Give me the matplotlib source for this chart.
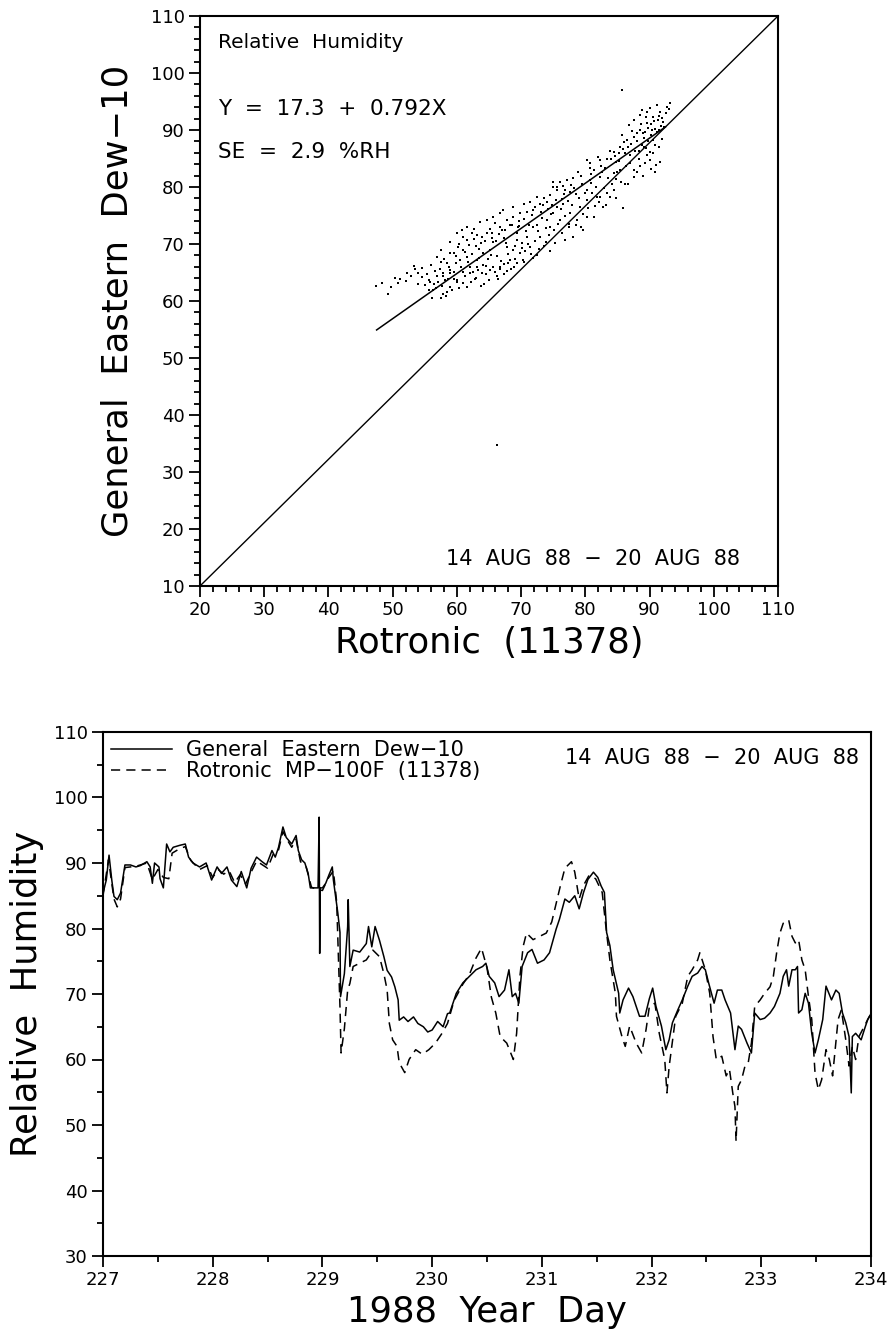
import numpy as np
import matplotlib
matplotlib.use("Agg")
import matplotlib.pyplot as plt
from matplotlib.ticker import MultipleLocator

plt.rcParams['font.family'] = ['DejaVu Sans']

# ---- scatter: Rotronic (x) vs General Eastern Dew-10 (y), % RH
rot_x = [47.4, 48.3, 49.3, 50.9, 51.1, 52.3, 53.3, 53.5, 54.0, 55.3, 55.8, 56.1, 55.6, 57.5, 58.3, 58.4,
         57.0, 57.9, 59.0, 60.0, 61.0, 63.7, 62.1, 63.1, 64.1, 65.2, 66.7, 67.8, 69.3, 70.3, 72.4, 74.5,
         56.9, 58.4, 60.5, 61.5, 58.9, 57.6, 56.9, 57.9, 58.9, 59.5, 60.2, 61.0, 61.5, 62.3, 63.1, 63.9,
         64.7, 65.2, 66.0, 66.7, 67.8, 68.8, 69.8, 70.9, 72.2, 73.5, 75.0, 76.1, 77.1, 78.1, 80.7, 82.3,
         83.3, 84.4, 85.4, 86.5, 87.5, 88.5, 89.6, 90.6, 91.6, 92.7, 93.2, 91.1, 89.6, 88.5, 87.5,
         89.6, 90.6, 90.1, 90.9, 88.5,
         66.7, 68.3, 69.8, 71.4, 73.0, 74.5, 76.1, 77.6, 79.2, 80.2, 81.8, 83.3, 84.4,
         64.1, 65.2, 63.1, 62.1, 61.0, 60.0, 59.0, 57.9, 56.3, 55.6, 65.7, 67.8, 69.3, 70.9, 71.9, 74.0,
         75.0, 75.6, 76.6, 74.5, 75.6, 77.6, 80.2, 80.7, 80.2, 79.4, 78.1, 76.9, 79.7, 81.3, 82.3, 83.9,
         82.8, 85.4, 87.0, 87.5, 84.4, 82.3, 81.3, 80.2, 80.7,
         60.0, 60.8, 61.5, 62.6, 63.6, 64.7, 65.7, 66.7, 67.2, 68.8, 70.4, 71.4, 72.4, 75.0, 75.6,
         58.2, 59.6, 61.8, 63.4, 65.6, 67.3, 69.5, 71.2, 73.1, 74.8, 76.4, 78.6, 80.9, 82.6, 84.8, 86.2,
         88.8, 90.3, 91.4,
         89.0, 89.8, 90.2, 90.8, 91.3, 91.9, 90.5, 89.2, 88.0, 87.1, 86.0, 85.2, 88.3, 89.4, 91.5, 92.3,
         92.0, 90.0, 88.9, 86.8, 85.7, 84.0, 83.0, 82.0, 79.5, 78.8, 77.8, 76.8, 85.7, 85.9, 91.6, 90.2,
         89.0, 86.6, 84.8,
         62.8, 64.6, 66.2, 67.4, 68.9, 70.6, 71.8, 73.6, 75.2, 76.3, 77.4, 78.7, 81.5, 83.2, 84.8, 86.2,
         87.6,
         57.6, 59.0, 60.3, 62.9, 63.8, 65.4, 66.5, 67.5, 68.6, 69.6, 70.5, 71.7, 73.0, 74.2, 76.7, 54.5,
         56.6, 58.0, 59.8, 61.2, 62.4, 63.3, 64.9, 66.3, 67.9, 69.0, 70.2, 72.6, 73.9,
         66.3]
dew_y = [62.6, 63.2, 61.3, 63.1, 63.8, 65.0, 66.1, 65.6, 65.0, 64.7, 63.4, 60.5, 62.0, 60.6, 60.8, 61.5,
         63.4, 64.3, 64.9, 63.4, 63.1, 62.6, 64.9, 66.0, 66.3, 65.4, 65.7, 65.2, 66.6, 67.2, 68.1, 68.7,
         67.8, 66.6, 67.2, 67.8, 68.4, 66.9, 64.3, 64.9, 65.4, 68.4, 69.5, 71.3, 70.7, 71.9, 71.6, 71.3,
         71.9, 72.7, 73.6, 73.0, 74.2, 74.8, 75.4, 75.7, 76.5, 78.0, 80.0, 80.9, 81.2, 81.5, 84.2, 84.7,
         85.0, 86.2, 87.1, 88.2, 88.8, 90.0, 91.2, 92.3, 93.2, 94.1, 94.7, 94.4, 93.2, 92.6, 91.8,
         85.6, 85.9, 84.7, 82.7, 83.6,
         66.0, 67.2, 68.4, 69.5, 71.3, 73.0, 74.2, 75.4, 76.5, 77.7, 78.3, 78.9, 79.5,
         68.4, 69.0, 67.2, 66.0, 65.1, 63.7, 62.5, 61.3, 61.9, 63.7, 66.0, 69.5, 70.7, 71.3, 73.0, 74.2,
         75.4, 76.5, 77.1, 78.6, 79.5, 79.2, 79.5, 81.2, 74.8, 73.0, 71.3, 70.7, 72.4, 74.8, 78.3, 78.3,
         76.5, 83.0, 84.2, 83.0, 82.4, 81.8, 83.0, 84.7, 83.3,
         71.9, 72.5, 73.0, 72.7, 73.9, 74.2, 74.8, 75.4, 76.0, 76.5, 77.1, 77.4, 78.3, 80.9, 80.0,
         63.6, 65.1, 66.9, 67.6, 70.3, 71.0, 72.9, 73.4, 75.6, 76.9, 77.9, 78.8, 80.7, 82.6, 84.3, 85.9,
         87.4, 89.1, 90.0,
         89.5, 90.4, 91.0, 90.1, 91.8, 92.1, 88.2, 88.6, 89.5, 87.5, 87.9, 86.0, 86.4, 86.9, 87.0, 90.6,
         88.5, 93.8, 93.5, 90.8, 89.2, 84.9, 83.4, 85.3, 80.6, 82.6, 80.3, 79.5, 97.0, 76.3, 84.3, 83.2,
         82.0, 80.5, 81.4,
         63.8, 64.8, 64.4, 66.5, 65.9, 68.8, 67.6, 69.7, 70.2, 72.0, 73.5, 74.2, 76.6, 76.8, 78.0, 80.5,
         81.8,
         69.0, 70.4, 70.0, 69.6, 70.1, 71.0, 71.7, 72.5, 73.3, 74.0, 74.4, 75.1, 77.1, 76.2, 78.8, 64.2,
         65.3, 67.4, 66.7, 68.6, 68.2, 65.4, 67.3, 67.9, 68.2, 69.6, 70.2, 72.3, 72.8,
         34.7]

# more points of the same cloud
rot_x2 = [49.8, 50.4, 52.0, 52.8, 53.9, 54.6, 55.0, 55.9, 56.4, 56.8, 57.3, 57.7, 58.6, 58.8, 59.3, 59.6,
          59.9, 60.4, 60.7, 60.9,
          61.3, 61.6, 61.9, 62.2, 62.5, 62.7, 63.0, 63.5, 63.9, 64.2, 64.4, 64.6, 65.0, 65.3, 65.5, 65.9,
          66.1, 66.4, 66.9, 67.1, 67.3, 67.6, 67.9, 68.2, 68.4, 68.7,
          69.1, 69.4, 69.7, 70.1, 70.4, 70.8, 71.1, 71.5, 71.8, 72.1, 72.4, 72.8, 73.2, 73.4, 73.8, 74.1,
          74.3, 74.7, 75.1, 75.4, 75.8, 76.2, 76.5, 76.9, 77.3, 77.5, 77.9, 78.3, 78.5, 79.0, 79.3, 79.6,
          79.9,
          80.4, 80.9, 81.1, 81.6, 82.1, 82.5, 82.9, 83.6, 83.8, 84.2, 84.6, 85.0, 85.3, 85.6, 85.9, 86.3,
          86.7, 87.0, 87.3, 87.8, 88.1, 88.4, 88.7, 89.1, 89.3, 89.5, 89.8, 90.1, 90.4, 90.7, 90.9, 91.2,
          91.5, 91.8, 92.1, 92.5, 93.0, 89.3, 91.0, 88.0]
dew_y2 = [62.4, 64.0, 63.5, 64.4, 63.0, 65.8, 62.8, 66.4, 63.0, 62.2, 65.7, 62.6, 63.9, 66.0, 61.9, 63.8,
          67.9, 62.2, 65.9, 68.9,
          64.3, 62.4, 69.8, 63.3, 65.1, 70.9, 64.1, 69.1, 64.9, 62.9, 70.6, 66.2, 63.6, 68.1, 72.0, 65.1,
          70.6, 63.9, 67.1, 72.4, 64.7, 70.2, 66.6, 73.4, 65.6, 69.0,
          67.4, 71.9, 73.1, 69.3, 66.9, 72.2, 70.0, 68.2, 76.0, 70.6, 73.3, 69.2, 74.6, 76.8, 70.4, 77.4,
          71.6, 75.2, 72.4, 77.8, 73.5, 76.1, 80.2, 74.9, 77.6, 72.9, 76.8, 79.9, 73.4, 78.1, 81.9, 75.2,
          79.0,
          76.4, 82.3, 78.9, 80.0, 77.4, 83.6, 79.9, 81.6, 86.3, 80.5, 85.4, 82.6, 84.6, 80.9, 86.6, 83.7,
          87.0, 85.6, 89.9, 86.3, 88.0, 84.9, 91.0, 87.0, 89.7, 92.2, 88.1, 86.2, 90.0, 91.6, 87.4, 89.6,
          92.5, 90.7, 91.4, 93.0, 93.7, 84.2, 83.8, 82.7]

fit_a, fit_b = 17.3, 0.792
fit_x = [47.5, 92.5]
diag_x = [20, 110]
diag_y = [10, 110]

# ---- time series, 1988 year day
ge_day = [227.00, 227.03, 227.055, 227.08, 227.10, 227.13, 227.16, 227.20, 227.25, 227.30, 227.34, 227.40,
          227.43, 227.45, 227.47, 227.51, 227.52, 227.55, 227.58, 227.61, 227.64, 227.70, 227.75, 227.78,
          227.82, 227.88, 227.94, 227.99, 228.04, 228.08, 228.13, 228.17, 228.22, 228.26, 228.31, 228.35,
          228.40, 228.45, 228.49, 228.54, 228.57, 228.60, 228.64, 228.67, 228.72, 228.76, 228.78, 228.81,
          228.84, 228.87, 228.89, 228.93, 228.96, 228.97, 228.975, 228.98, 229.00, 229.03, 229.06, 229.09,
          229.10, 229.12, 229.14, 229.16, 229.165, 229.20, 229.23, 229.235, 229.25, 229.28, 229.34, 229.40,
          229.42, 229.45, 229.48, 229.52, 229.56, 229.59, 229.63, 229.66, 229.69, 229.70, 229.74, 229.78,
          229.83, 229.87, 229.92, 229.96, 230.00, 230.05, 230.10, 230.14, 230.16, 230.22, 230.28, 230.34,
          230.40, 230.46, 230.49, 230.52, 230.57, 230.61, 230.66, 230.70, 230.73, 230.76, 230.79, 230.82,
          230.87, 230.91, 230.96, 231.02, 231.07, 231.13, 231.16, 231.21, 231.25, 231.30, 231.34, 231.38,
          231.42, 231.47, 231.51, 231.54, 231.57, 231.59, 231.62, 231.65, 231.70, 231.71, 231.74, 231.79,
          231.83, 231.89, 231.94, 231.98, 232.01, 232.04, 232.09, 232.13, 232.16, 232.19, 232.24, 232.28,
          232.33, 232.37, 232.42, 232.46, 232.49, 232.52, 232.57, 232.60, 232.64, 232.67, 232.72, 232.76,
          232.79, 232.82, 232.87, 232.91, 232.94, 232.99, 233.03, 233.08, 233.12, 233.17, 233.20, 233.23,
          233.25, 233.28, 233.31, 233.33, 233.34, 233.37, 233.40, 233.43, 233.46, 233.49, 233.52, 233.56,
          233.59, 233.64, 233.68, 233.71, 233.74, 233.77, 233.80, 233.82, 233.83, 233.86, 233.91, 233.94,
          233.97, 234.00]
ge_rh = [85.4, 87.4, 91.2, 87.4, 84.9, 84.4, 85.4, 89.7, 89.7, 89.4, 89.6, 90.2,
         89.4, 86.9, 90.0, 89.4, 87.6, 86.2, 92.9, 91.7, 92.4, 92.7, 92.9, 90.9,
         90.0, 89.4, 90.0, 87.4, 89.4, 88.4, 89.4, 87.4, 86.4, 88.7, 86.2, 89.2,
         90.9, 90.2, 89.7, 91.9, 90.9, 92.4, 95.5, 93.9, 92.9, 94.2, 91.9, 90.5,
         90.0, 88.4, 86.2, 86.2, 86.2, 97.0, 76.2, 86.2, 86.2, 86.9, 88.2, 89.4,
         87.4, 84.9, 82.4, 79.4, 69.6, 73.1, 80.3, 84.4, 74.2, 76.7, 76.4, 77.7,
         80.3, 77.2, 80.3, 78.2, 75.7, 73.6, 72.6, 71.1, 69.1, 66.0, 66.5, 65.8,
         66.5, 65.5, 65.0, 64.2, 64.5, 65.8, 65.0, 67.0, 67.1, 70.1, 71.7, 72.7,
         73.7, 74.2, 74.7, 72.7, 71.7, 69.6, 70.6, 73.7, 69.6, 70.1, 68.6, 74.2,
         76.3, 76.8, 74.7, 75.2, 76.3, 79.9, 81.4, 84.5, 84.0, 85.0, 83.0, 85.5,
         87.5, 88.6, 87.8, 86.5, 85.5, 79.4, 77.4, 73.7, 70.1, 67.1, 69.1, 70.9,
         69.6, 66.6, 66.6, 69.3, 70.9, 68.1, 65.1, 61.5, 63.0, 65.6, 67.6, 69.1,
         71.2, 72.7, 73.2, 74.2, 73.7, 71.7, 68.6, 70.6, 70.6, 69.1, 67.1, 61.5,
         65.1, 64.6, 62.5, 61.0, 67.1, 66.1, 66.3, 67.1, 68.1, 70.1, 72.7, 73.7,
         71.2, 73.7, 73.7, 74.2, 67.1, 67.6, 70.1, 68.6, 64.0, 61.0, 63.0, 66.1,
         71.2, 69.1, 70.6, 70.1, 67.1, 65.6, 63.5, 54.9, 63.5, 64.0, 63.0, 64.6,
         66.1, 67.0]

rt_day = [227.00, 227.05, 227.10, 227.13, 227.16, 227.20, 227.30, 227.40, 227.45, 227.50, 227.55, 227.60,
          227.63, 227.70, 227.75, 227.80, 227.88, 227.95, 228.00, 228.05, 228.10, 228.15, 228.20, 228.25,
          228.30, 228.35, 228.40, 228.50, 228.55, 228.60, 228.64, 228.68, 228.72, 228.76, 228.80, 228.85,
          228.90, 228.95, 229.00, 229.05, 229.10, 229.13, 229.16, 229.17, 229.20, 229.23, 229.25, 229.28,
          229.34, 229.40, 229.46, 229.52, 229.56, 229.59, 229.61, 229.64, 229.68, 229.70, 229.75, 229.79,
          229.85, 229.91, 229.97, 230.03, 230.09, 230.14, 230.20, 230.28, 230.34, 230.40, 230.45, 230.50,
          230.54, 230.58, 230.62, 230.68, 230.74, 230.77, 230.80, 230.83, 230.86, 230.92, 230.98, 231.04,
          231.09, 231.17, 231.21, 231.27, 231.30, 231.34, 231.38, 231.43, 231.49, 231.55, 231.59, 231.62,
          231.67, 231.68, 231.73, 231.76, 231.80, 231.86, 231.91, 231.95, 231.98, 232.03, 232.07, 232.12,
          232.14, 232.16, 232.22, 232.28, 232.33, 232.37, 232.42, 232.44, 232.49, 232.53, 232.56, 232.59,
          232.64, 232.68, 232.71, 232.74, 232.76, 232.77, 232.79, 232.82, 232.85, 232.88, 232.91, 232.94,
          232.99, 233.03, 233.08, 233.11, 233.14, 233.17, 233.20, 233.25, 233.28, 233.31, 233.34, 233.37,
          233.40, 233.43, 233.46, 233.49, 233.52, 233.55, 233.59, 233.62, 233.65, 233.70, 233.73, 233.77,
          233.80, 233.83, 233.86, 233.89, 233.94, 233.97, 234.00]
rt_rh = [85.0, 90.5, 84.5, 83.3, 84.5, 89.3, 89.5, 90.0, 87.5, 89.0, 87.8, 87.6,
         91.5, 92.2, 92.5, 90.4, 89.0, 89.6, 87.8, 89.0, 88.3, 88.8, 87.0, 88.2,
         86.8, 88.6, 90.3, 89.2, 91.3, 92.0, 94.8, 93.5, 92.4, 93.6, 90.2, 89.5,
         86.3, 86.0, 85.8, 87.6, 88.8, 84.0, 68.0, 61.0, 64.7, 70.6, 71.6, 74.2,
         74.7, 75.2, 76.7, 75.7, 73.1, 70.6, 65.5, 63.0, 62.0, 59.5, 58.0, 60.0,
         61.5, 60.8, 61.5, 62.5, 64.0, 65.5, 69.0, 71.5, 73.0, 75.5, 77.0, 74.0,
         69.5, 67.1, 63.5, 62.5, 60.0, 64.0, 72.7, 77.3, 79.3, 78.3, 78.8, 79.3,
         81.0, 86.6, 89.2, 90.2, 88.6, 84.5, 86.6, 88.1, 87.6, 85.5, 79.3, 75.2,
         70.1, 66.6, 63.5, 62.0, 65.1, 62.5, 61.0, 64.6, 68.1, 68.6, 64.0, 60.0,
         54.9, 58.9, 66.6, 68.6, 72.7, 73.7, 75.2, 76.3, 73.7, 70.1, 63.5, 60.0,
         60.5, 57.5, 58.5, 54.9, 52.8, 47.5, 55.9, 56.9, 58.9, 59.4, 62.5, 68.1,
         69.1, 70.1, 71.1, 72.7, 76.3, 79.3, 80.8, 81.3, 78.8, 77.8, 78.3, 75.2,
         73.7, 69.6, 66.1, 57.9, 55.4, 56.9, 61.5, 60.0, 57.5, 66.1, 67.6, 63.0,
         59.0, 62.0, 60.0, 63.5, 65.1, 66.1, 67.0]

W, H = 891, 1331
fig = plt.figure(figsize=(W / 100, H / 100), dpi=100)

def style_axes(ax):
    for sp in ax.spines.values():
        sp.set_linewidth(1.5)
    ax.tick_params(which='both', direction='out', top=False, right=False, width=1.3, labelsize=13)
    ax.tick_params(which='major', length=8, pad=3)
    ax.tick_params(which='minor', length=4.5)

# top: scatter
ax1 = fig.add_axes([200 / W, 1 - 586 / H, 578 / W, 570 / H])
ax1.scatter(rot_x, dew_y, s=2.5, marker='s', color='k', linewidths=0)
ax1.scatter(rot_x2, dew_y2, s=2.5, marker='s', color='k', linewidths=0)
fx = np.array(fit_x)
ax1.plot(fx, fit_a + fit_b * fx, color='k', lw=1.1)
ax1.plot(diag_x, diag_y, color='k', lw=1.0)
ax1.set_xlim(20, 110)
ax1.set_ylim(10, 110)
ax1.xaxis.set_major_locator(MultipleLocator(10))
ax1.xaxis.set_minor_locator(MultipleLocator(2))
ax1.yaxis.set_major_locator(MultipleLocator(10))
ax1.yaxis.set_minor_locator(MultipleLocator(2))
style_axes(ax1)
ax1.set_xlabel('Rotronic  (11378)', fontsize=25.5, labelpad=5)
ax1.set_ylabel('General  Eastern  Dew\u221210', fontsize=25.5, labelpad=12)
ax1.text(0.031, 0.953, 'Relative  Humidity', transform=ax1.transAxes, fontsize=14.5, va='center')
ax1.text(0.031, 0.837, 'Y  =  17.3  +  0.792X', transform=ax1.transAxes, fontsize=15.5, va='center')
ax1.text(0.031, 0.761, 'SE  =  2.9  %RH', transform=ax1.transAxes, fontsize=15.5, va='center')
ax1.text(0.934, 0.047, '14  AUG  88  \u2212  20  AUG  88', transform=ax1.transAxes, fontsize=15,
         ha='right', va='center')

# bottom: time series
ax2 = fig.add_axes([103 / W, 1 - 1256 / H, 768 / W, 524 / H])
ax2.plot(ge_day, ge_rh, color='k', lw=1.1, label='General  Eastern  Dew\u221210')
ax2.plot(rt_day, rt_rh, color='k', lw=1.1, dashes=(6, 4), label='Rotronic  MP\u2212100F  (11378)')
ax2.set_xlim(227, 234)
ax2.set_ylim(30, 110)
ax2.xaxis.set_major_locator(MultipleLocator(1))
ax2.xaxis.set_minor_locator(MultipleLocator(0.5))
ax2.yaxis.set_major_locator(MultipleLocator(10))
ax2.yaxis.set_minor_locator(MultipleLocator(5))
style_axes(ax2)
ax2.set_xlabel('1988  Year  Day', fontsize=25.5, labelpad=4)
ax2.set_ylabel('Relative  Humidity', fontsize=25.5, labelpad=7)
ax2.legend(loc='upper left', frameon=False, fontsize=15, handlelength=2.9, handletextpad=0.7,
           labelspacing=0.05, borderaxespad=0.3, borderpad=0.1)
ax2.text(0.984, 0.950, '14  AUG  88  \u2212  20  AUG  88', transform=ax2.transAxes, fontsize=15,
         ha='right', va='center')

fig.savefig('out.png', dpi=100)
